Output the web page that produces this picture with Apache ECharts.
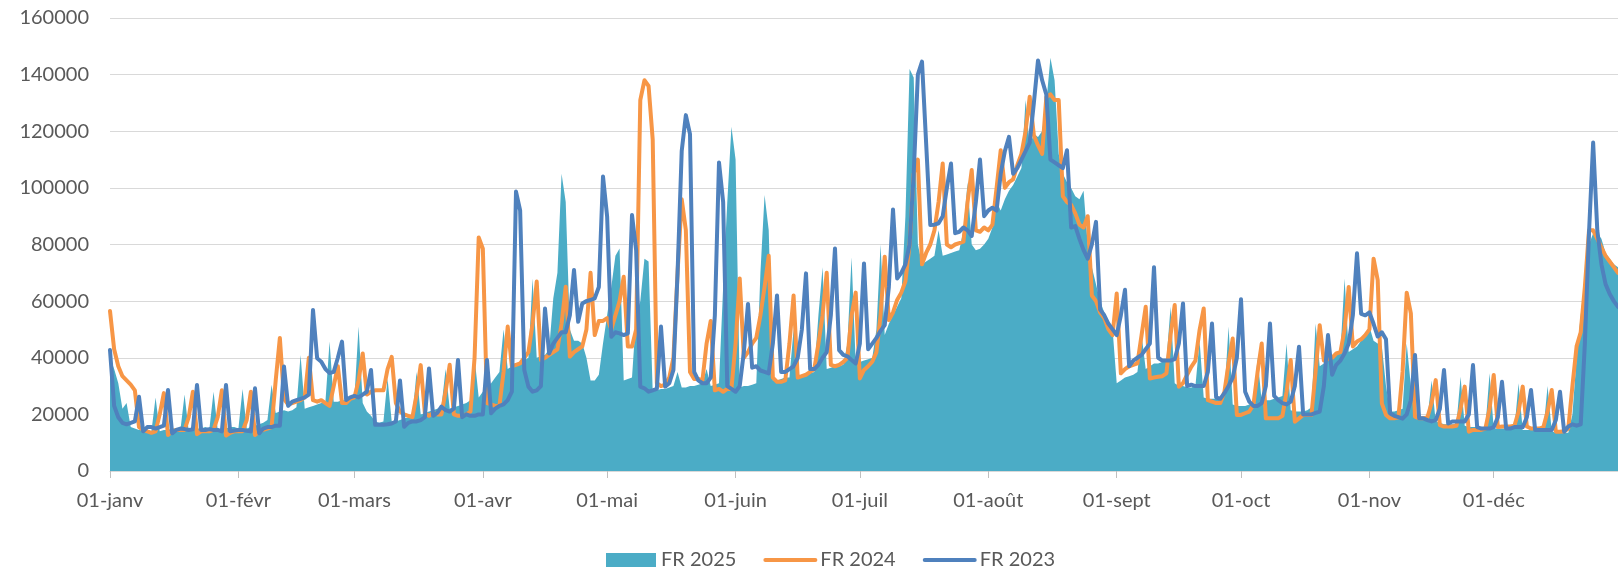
<!DOCTYPE html>
<html>
<head>
<meta charset="utf-8">
<script src="https://cdn.jsdelivr.net/npm/echarts@6/dist/echarts.min.js"></script>
<style>
html,body{margin:0;padding:0;background:#fff;}
#chart{width:1618px;height:568px;}
</style>
</head>
<body>
<div id="chart"></div>
<script>
// ---- data ----
const months = ['janv','févr','mars','avr','mai','juin','juil','août','sept','oct','nov','déc'];
const monthDays = [31,28,31,30,31,30,31,31,30,31,30,31];
const seriesNames = ['FR 2025','FR 2024','FR 2023'];

const fr2025 = [
40000,36000,31000,22000,24000,15500,15000,
14500,15000,14500,14000,26000,14000,14500,
14500,15000,15000,14500,27000,14000,14500,
15000,15000,15500,15000,28000,14500,15000,
15000,15500,15500,15000,29000,15000,15500,
16000,16500,17000,18000,30500,20500,21000,
21500,21000,21500,22500,41000,22000,22500,
23000,23500,24000,24500,45700,24500,24500,
25000,25000,25500,26000,51000,24000,21000,
19500,17500,17000,17500,32700,17500,17500,
18000,18500,19000,19500,35000,20000,20500,
21000,21500,22000,22500,36000,22000,22500,
23000,23500,24000,25000,40000,26000,28000,
30000,31000,33000,35000,50000,36000,37000,
38000,38500,39000,40000,68000,40000,40500,
41000,43000,61000,70000,105000,95000,50000,
46000,46000,45000,40000,32000,32000,34000,
45000,55000,65000,76000,78600,32000,32500,
33000,55000,60000,75000,74000,28000,28500,
29000,29000,29500,30000,35000,29500,29500,
30000,30000,30500,31000,36000,30000,30500,
31000,65000,95000,121600,110000,29500,30000,
30000,30500,31000,70000,97500,85000,32000,
32000,32500,33000,33000,50000,33500,34000,
34000,34500,35000,55000,72000,36000,36500,
37000,37000,37500,45000,75500,38000,38500,
39000,39500,40000,50000,80000,48000,52000,
55000,58000,61000,90000,142000,139000,80000,
73000,74000,75000,76000,85000,76000,76500,
77000,77500,78000,85000,102000,80000,78000,
78500,80000,82000,86000,95000,92000,96000,
99000,101000,104000,107000,131000,115000,119000,
118000,120000,130000,146000,138000,112000,105000,
102000,100000,97000,96000,99000,80000,72000,
66000,60000,56000,52000,50000,31000,32000,
33000,33500,34000,35000,48000,36000,37000,
38000,38000,38500,39000,58000,31000,30000,
30000,29500,29500,30000,46000,26000,25500,
25500,25500,26000,27000,51000,23500,23000,
23000,23000,23500,24000,40000,24500,25000,
25000,25500,26000,26500,45000,21500,21000,
21000,21000,21500,22500,52000,37000,38000,
39000,40000,41000,42000,68000,42000,43000,
44000,46000,48000,51000,46000,45000,44000,
30000,21000,21000,21500,22000,45000,30000,
19000,19000,18500,18500,32000,17500,17000,
16500,16500,16500,16500,33300,16000,15500,
15500,15500,15500,15500,34500,15000,15000,
15000,15000,15000,15000,31000,14500,14500,
14500,14500,14500,14500,30000,14000,13500,
13500,13500,13500,20000,40000,55000,68000,
80000,84000,84000,82000,77000,75000,73000,
72000
];

const fr2024 = [
56500,43000,37000,33500,32000,30500,28500,
15500,14500,14000,13500,14000,20000,27500,
12700,14000,14500,14500,14500,19000,28000,
13000,14000,14000,14000,14500,19000,28500,
12500,13500,14000,14000,14000,18000,28000,
12700,14000,14500,15000,15500,32000,47000,
25500,23500,24000,24500,25000,26000,40000,
25000,24500,25000,24000,23000,30000,37000,
24000,24000,25500,26000,32000,41500,27000,
28000,28500,28500,28500,36000,40300,24000,
21000,20000,19500,19000,27000,37400,20500,
19500,20500,20000,20000,28000,37500,20000,
19500,19500,20000,21000,40000,82500,78500,
24000,23500,23000,23000,35000,51000,37000,
37500,38000,40000,42000,52000,66900,39200,
40000,41000,42000,43000,52000,65100,40400,
42000,43000,44000,50000,70000,48000,53000,
53000,54000,50000,55000,60000,68600,44000,
44000,50000,131000,138000,136000,117000,31000,
30000,30500,33000,40000,70000,96000,85000,
35000,32500,32500,32000,45000,53000,28500,
29000,28000,29000,29000,45000,68000,40000,
42000,45000,47000,55000,65000,76000,33000,
31500,31500,32000,45000,62000,33000,33500,
34000,35000,36000,45000,55000,70000,37500,
37000,37500,38500,40000,55000,63000,32700,
35700,37000,38600,42000,55000,75700,53300,
56000,60400,63000,67000,80000,105000,110000,
73000,77000,80000,85000,95000,108600,80000,
79000,80000,80500,81000,95000,106300,85000,
84500,86000,85000,87000,100000,113300,100000,
102000,103000,108000,112000,120000,132200,118600,
115000,112000,132000,133000,131000,131000,97000,
95000,94000,91000,87000,86000,90000,62000,
60000,56000,54000,50000,48000,62700,34500,
36000,37000,37500,38000,48000,58000,32700,
33000,33300,33500,34500,48000,58600,29800,
31000,34000,36800,39000,49800,57400,25000,
24500,24000,24000,28000,38000,46800,19800,
19800,20400,21000,23300,35000,45000,18600,
18600,18600,18600,19500,28000,39200,17400,
18600,19800,19800,19800,35000,51500,39000,
39500,40000,41500,42000,50000,65000,44000,
45700,46500,48000,50000,75000,67400,23900,
19800,18600,18600,19000,35000,63000,55700,
19200,18600,18600,19000,24000,32100,16200,
15700,15700,15700,16000,22000,29800,13900,
14500,14500,14500,15000,22000,33900,15500,
15700,15700,15700,16000,21000,29800,15700,
15000,15000,15000,15500,21000,28600,13900,
13900,14000,15000,30000,44000,49000,65000,
85000,85000,82000,79000,76000,74000,72000,
70000
];

const fr2023 = [
42700,23000,19000,17000,16500,17000,17500,
26200,14000,15500,15500,15000,15500,16000,
28600,13300,14500,15000,14800,14500,14700,
30400,14500,14500,14800,14500,14500,14000,
30400,14000,14300,14500,14500,14200,14000,
29200,13300,15000,15500,15500,16000,16000,
36900,23000,24500,25000,25500,26000,27000,
56900,39800,38600,36000,34600,35000,40000,
45700,25100,26000,26500,26000,27000,28000,
35700,16300,16300,16300,16500,16800,17500,
32000,15600,17000,17500,17500,18000,19000,
36200,19500,20500,22700,21500,21000,22000,
39200,19000,20000,19500,19500,20000,20000,
39200,20400,22000,23000,23500,25000,28000,
98700,92000,35700,29800,28000,28500,30000,
57400,41500,45000,47000,49000,49000,55000,
71000,52700,59200,60000,60400,61000,65000,
104000,89800,47400,49000,48600,48000,48600,
90400,78000,29800,29200,28000,28500,29000,
51000,29800,31000,35700,70000,113000,125700,
119000,35000,32000,31000,31000,33000,55000,
109000,95000,30000,29000,28000,30000,42000,
59000,36500,37000,35500,35000,34500,45000,
62000,35000,35000,36000,37000,40000,50000,
69800,36000,36000,37500,40000,42000,55000,
78600,42700,41000,40500,39200,38000,45000,
73300,43000,45000,47000,49500,51500,65000,
92400,68000,70000,73000,80000,105000,140000,
144600,115700,86900,87000,87500,90000,100000,
108600,84000,84500,86000,85000,83000,95000,
110000,90000,92000,93000,92000,105000,113000,
118000,105000,107000,110000,113000,116000,130000,
145000,138000,133000,110000,109000,108000,107000,
113300,86000,86500,82000,78000,75000,80000,
88000,57000,55000,52000,50000,48000,55000,
64000,37000,39000,40000,41000,43000,45000,
72000,40000,39000,39000,39000,39500,45000,
59200,30000,30500,30000,30000,30000,35000,
52100,26000,25500,27500,30000,33000,40000,
60700,28000,24500,23000,23000,24000,30000,
52100,26500,25000,24000,23500,24500,30000,
43900,20000,20000,20000,20500,21000,30000,
48000,34000,37500,39000,41500,45000,55000,
76900,55500,55000,56000,52000,47500,49000,
46500,20400,19500,19000,18500,20000,25000,
41000,18600,18600,18000,17500,18000,22000,
35700,16800,17500,17500,17500,17500,20000,
37400,15500,15000,15000,15000,15500,19000,
31500,15000,15000,15500,15500,15500,19000,
28600,14500,14500,14500,14500,14500,18000,
28000,13900,15700,16500,16000,16500,45000,
84000,116000,85000,73000,66000,62500,60000,
58000
];

// ---- categories built from month arrays ----
const categories = [];
months.forEach((m, mi) => {
  for (let d = 1; d <= monthDays[mi]; d++) {
    categories.push((d < 10 ? '0' + d : '' + d) + '-' + m);
  }
});

const FONT = 'Lato';
const isMonthStart = (i, v) => v.slice(0, 3) === '01-';

const chart = echarts.init(document.getElementById('chart'), null, {renderer: 'canvas'});
chart.setOption({
  animation: false,
  backgroundColor: '#ffffff',
  grid: {left: 110, top: 18, width: 1517, height: 453},
  legend: {
    left: 601, top: 545,
    itemWidth: 50, itemHeight: 14, itemGap: 27,
    textStyle: {color: '#595959', fontSize: 20, fontFamily: FONT, lineHeight: 20},
    data: [
      {name: 'FR 2025', icon: 'rect'},
      {name: 'FR 2024', itemStyle: {opacity: 0, borderWidth: 0}, lineStyle: {width: 4, cap: 'round'}},
      {name: 'FR 2023', itemStyle: {opacity: 0, borderWidth: 0}, lineStyle: {width: 4, cap: 'round'}}
    ]
  },
  xAxis: {
    type: 'category',
    data: categories,
    boundaryGap: false,
    axisLine: {lineStyle: {color: '#d9d9d9', width: 1}},
    axisTick: {show: true, interval: isMonthStart, length: 7, lineStyle: {color: '#bfbfbf'}},
    axisLabel: {interval: isMonthStart, color: '#595959', fontSize: 20, fontFamily: FONT, margin: 20}
  },
  yAxis: {
    type: 'value', min: 0, max: 160000, interval: 20000,
    axisLine: {show: false}, axisTick: {show: false},
    axisLabel: {color: '#595959', fontSize: 20, fontFamily: FONT, margin: 21, formatter: v => String(v)},
    splitLine: {lineStyle: {color: '#d9d9d9', width: 1}}
  },
  series: [
    {
      name: 'FR 2025', type: 'line', data: fr2025,
      symbol: 'none', lineStyle: {width: 0, color: '#4BACC6'},
      itemStyle: {color: '#4BACC6'},
      areaStyle: {color: '#4BACC6', opacity: 1}
    },
    {
      name: 'FR 2024', type: 'line', data: fr2024,
      symbol: 'none', itemStyle: {color: '#F79646'},
      lineStyle: {width: 4, color: '#F79646', cap: 'round', join: 'round'}
    },
    {
      name: 'FR 2023', type: 'line', data: fr2023,
      symbol: 'none', itemStyle: {color: '#4F81BD'},
      lineStyle: {width: 4, color: '#4F81BD', cap: 'round', join: 'round'}
    }
  ]
});
</script>
</body>
</html>
